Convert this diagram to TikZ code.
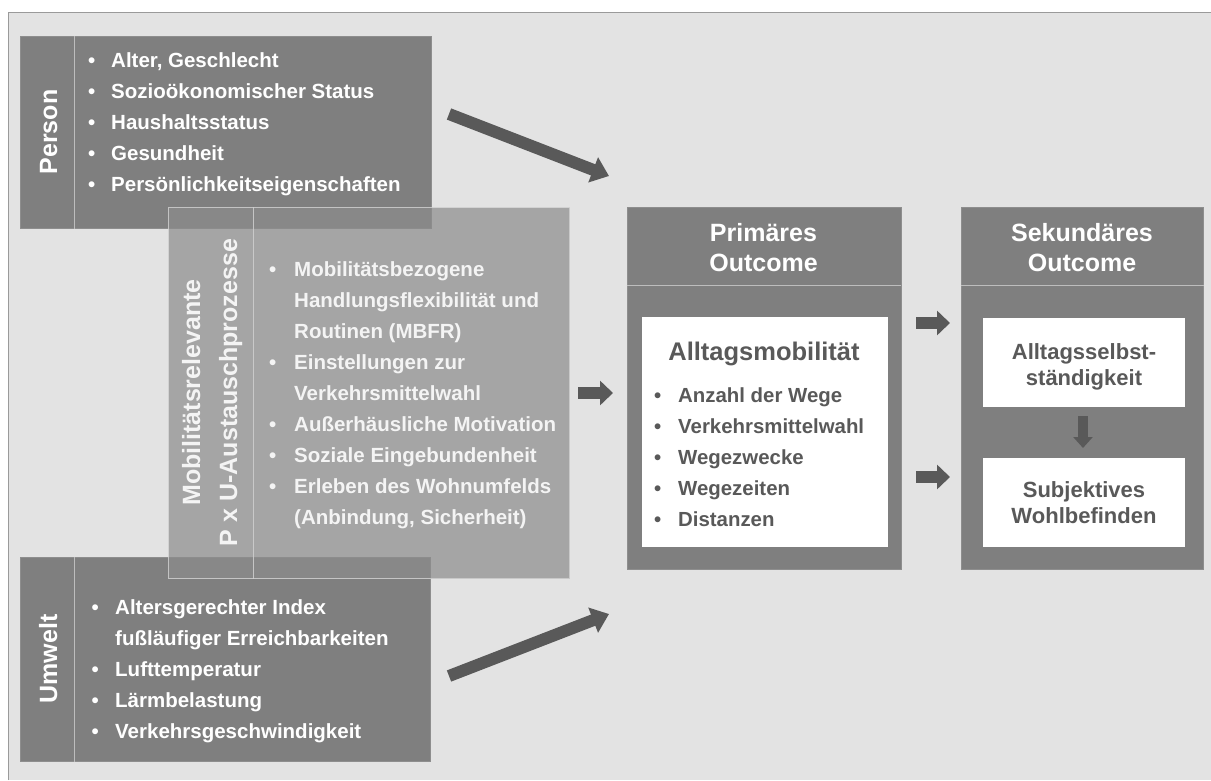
\documentclass[tikz,border=0pt]{standalone}
\usepackage{fontspec}
\setmainfont{Liberation Sans}
\usetikzlibrary{arrows.meta}
\definecolor{bgc}{HTML}{E3E3E3}
\definecolor{boxc}{HTML}{7F7F7F}
\definecolor{boxborder}{HTML}{8E8E8E}
\definecolor{darkc}{HTML}{595959}
\definecolor{framec}{HTML}{9A9A9A}
\definecolor{sepc}{HTML}{BDBDBD}
\definecolor{mobc}{RGB}{140,140,140}
\definecolor{mobborder}{HTML}{D0D0D0}
\definecolor{txtm}{HTML}{F4F4F4}
\newcommand\litem[6]{%
  \node[#1] (#2b) at (#3,#5) {\textbullet};
  \node[#1] (#2) at (#4,#5) {#6};}
\begin{document}
\begin{tikzpicture}[x=1pt,y=-1pt,
  box/.style={draw=boxborder, line width=0.8pt, fill=boxc, anchor=north west, inner sep=0pt},
  wbox/.style={fill=white, draw=none, anchor=north west, inner sep=0pt},
  mobbox/.style={anchor=north west, inner sep=0pt, fill=mobc, fill opacity=0.71, draw=mobborder, draw opacity=0.85, line width=1pt},
  divline/.style={draw=sepc, line width=1.6pt},
  mobdiv/.style={draw=mobborder, draw opacity=0.85, line width=1pt},
  itw/.style={font=\fontsize{20.5}{24}\selectfont\bfseries, text=white, anchor=base west, inner sep=0pt},
  itm/.style={font=\fontsize{20.5}{24}\selectfont\bfseries, text=txtm, anchor=base west, inner sep=0pt},
  itd/.style={font=\fontsize{20.4}{24}\selectfont\bfseries, text=darkc, anchor=base west, inner sep=0pt},
  vlabel/.style={rotate=90, anchor=base, font=\fontsize{25}{30}\selectfont\bfseries, text=white, inner sep=0pt},
  vlabelm/.style={rotate=90, anchor=base, font=\fontsize{25}{30}\selectfont\bfseries, text=txtm, inner sep=0pt},
  head/.style={anchor=base, font=\fontsize{25}{30}\selectfont\bfseries, text=white, inner sep=0pt},
  wtitle/.style={anchor=base, font=\fontsize{25.5}{30}\selectfont\bfseries, text=darkc, inner sep=0pt},
  wtext/.style={anchor=base, font=\fontsize{22}{26}\selectfont\bfseries, text=darkc, inner sep=0pt},
  bigarr/.style={draw=darkc, line width=12pt, -{Triangle[width=26pt,length=17pt]}},
  smallarr/.style={draw=darkc, line width=12pt, -{Triangle[width=24pt,length=13pt]}},
  downarr/.style={draw=darkc, line width=10pt, -{Triangle[width=19pt,length=11pt]}}
]
\useasboundingbox (0,0) rectangle (1211,780);
\fill[white] (0,0) rectangle (1211,780);
\fill[bgc] (8,12) rectangle (1211,780);
\draw[framec, line width=1pt] (8,780) -- (8,12) -- (1211,12);

% Person
\node[box, minimum width=411pt, minimum height=192pt] (person) at (20,36) {};
\draw[divline] ([xshift=54.5pt]person.north west) -- ([xshift=54.5pt]person.south west);
\node[vlabel] (personlbl) at (57,132) {Person};
\litem{itw}{p1}{88}{111}{67}{Alter, Geschlecht}
\litem{itw}{p2}{88}{111}{98}{Sozioökonomischer Status}
\litem{itw}{p3}{88}{111}{129}{Haushaltsstatus}
\litem{itw}{p4}{88}{111}{160}{Gesundheit}
\litem{itw}{p5}{88}{111}{191}{Persönlichkeitseigenschaften}

% Umwelt
\node[box, minimum width=410pt, minimum height=204pt] (umwelt) at (20,557) {};
\draw[divline] ([xshift=54.5pt]umwelt.north west) -- ([xshift=54.5pt]umwelt.south west);
\node[vlabel] (umweltlbl) at (57,659) {Umwelt};
\litem{itw}{u1}{91.5}{115}{614}{Altersgerechter Index}
\node[itw] (u1c) at (115,645) {fußläufiger Erreichbarkeiten};
\litem{itw}{u2}{91.5}{115}{676}{Lufttemperatur}
\litem{itw}{u3}{91.5}{115}{707}{Lärmbelastung}
\litem{itw}{u4}{91.5}{115}{738}{Verkehrsgeschwindigkeit}

% Mobilitaetsrelevante P x U-Austauschprozesse
\node[mobbox, minimum width=401pt, minimum height=371pt] (mob) at (168,207) {};
\draw[mobdiv] ([xshift=85pt]mob.north west) -- ([xshift=85pt]mob.south west);
\node[vlabelm] (moblbl1) at (200,392.5) {Mobilitätsrelevante};
\node[vlabelm] (moblbl2) at (237,392.5) {P x U-Austauschprozesse};
\litem{itm}{m1}{269}{294}{276}{Mobilitätsbezogene}
\node[itm] (m1c) at (294,307) {Handlungsflexibilität und};
\node[itm] (m1d) at (294,338) {Routinen (MBFR)};
\litem{itm}{m2}{269}{294}{369}{Einstellungen zur}
\node[itm] (m2c) at (294,400) {Verkehrsmittelwahl};
\litem{itm}{m3}{269}{294}{431}{Außerhäusliche Motivation}
\litem{itm}{m4}{269}{294}{462}{Soziale Eingebundenheit}
\litem{itm}{m5}{269}{294}{493}{Erleben des Wohnumfelds}
\node[itm] (m5c) at (294,524) {(Anbindung, Sicherheit)};

% Primaeres Outcome
\node[box, minimum width=274pt, minimum height=362pt] (prim) at (626.5,207) {};
\draw[divline] ([yshift=-78.5pt]prim.north west) -- ([yshift=-78.5pt]prim.north east);
\node[head] (primh1) at (763.5,241) {Primäres};
\node[head] (primh2) at (763.5,271) {Outcome};
\node[wbox, minimum width=246pt, minimum height=230pt] (alltag) at (641.7,317) {};
\node[wtitle] (alltagt) at (764,360) {Alltagsmobilität};
\litem{itd}{a1}{654}{678}{402}{Anzahl der Wege}
\litem{itd}{a2}{654}{678}{433}{Verkehrsmittelwahl}
\litem{itd}{a3}{654}{678}{464}{Wegezwecke}
\litem{itd}{a4}{654}{678}{495}{Wegezeiten}
\litem{itd}{a5}{654}{678}{526}{Distanzen}

% Sekundaeres Outcome
\node[box, minimum width=242.5pt, minimum height=362pt] (sek) at (960.5,207) {};
\draw[divline] ([yshift=-78.5pt]sek.north west) -- ([yshift=-78.5pt]sek.north east);
\node[head] (sekh1) at (1082,241) {Sekundäres};
\node[head] (sekh2) at (1082,271) {Outcome};
\node[wbox, minimum width=201.5pt, minimum height=89pt] (selbst) at (983,318) {};
\node[wtext] (selbst1) at (1084,359) {Alltagsselbst-};
\node[wtext] (selbst2) at (1084,385) {ständigkeit};
\node[wbox, minimum width=201.5pt, minimum height=89pt] (wohl) at (983,458) {};
\node[wtext] (wohl1) at (1084,497) {Subjektives};
\node[wtext] (wohl2) at (1084,523) {Wohlbefinden};

% Arrows
\coordinate (ar1s) at (449,114);
\coordinate (ar1e) at (609,176);
\coordinate (ar2s) at (449,676);
\coordinate (ar2e) at (609,614);
\coordinate (ar3s) at (578,393);
\coordinate (ar3e) at (613,393);
\coordinate (ar4s) at (916,323);
\coordinate (ar4e) at (950,323);
\coordinate (ar5s) at (916,477);
\coordinate (ar5e) at (950,477);
\coordinate (ar6s) at (1083,416);
\coordinate (ar6e) at (1083,448);
\draw[bigarr] (ar1s) -- (ar1e);
\draw[bigarr] (ar2s) -- (ar2e);
\draw[smallarr] (ar3s) -- (ar3e);
\draw[smallarr] (ar4s) -- (ar4e);
\draw[smallarr] (ar5s) -- (ar5e);
\draw[downarr] (ar6s) -- (ar6e);
\end{tikzpicture}
\end{document}
